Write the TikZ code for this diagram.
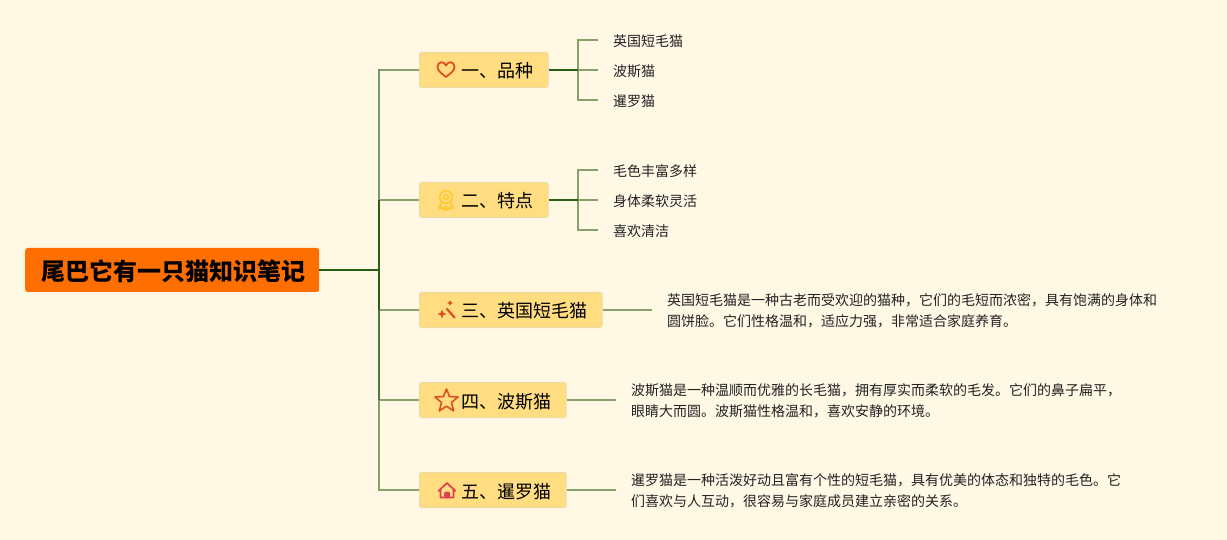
\documentclass[tikz,border=0pt]{standalone}
\usepackage{fontspec}
\setmainfont{Noto Sans CJK SC}
\usetikzlibrary{calc}
\definecolor{bgc}{HTML}{FFF8E5}
\definecolor{rootc}{HTML}{FF6F00}
\definecolor{branchc}{HTML}{FFDD80}
\definecolor{branchb}{HTML}{EADBA2}
\definecolor{dark}{HTML}{2A5F14}
\definecolor{mid}{HTML}{4A7A3A}
\definecolor{midl}{HTML}{76956A}
\definecolor{light}{HTML}{87A06C}
\definecolor{txt}{HTML}{222222}
\definecolor{icred}{HTML}{DC4F24}
\definecolor{icyel}{HTML}{FFC933}
\definecolor{icpink}{HTML}{DB4250}
\tikzset{
  rootbox/.style={fill=rootc,draw=none,rounded corners=2.5pt,anchor=west,inner xsep=0pt,inner ysep=0pt,minimum height=44pt,text height=21.6pt,text depth=0pt,font=\fontsize{24}{28}\selectfont\bfseries,text=black},
  branchbox/.style={fill=branchc,draw=branchb,line width=1pt,rounded corners=1.5pt,anchor=west,inner xsep=0pt,inner ysep=0pt,minimum height=35pt,text height=16pt,text depth=0pt,font=\fontsize{18}{22}\selectfont,text=black},
  leaftext/.style={anchor=west,inner sep=0pt,font=\fontsize{14}{20}\selectfont,text=txt},
  detailtext/.style={anchor=west,inner sep=0pt,align=left,font=\fontsize{14}{21}\selectfont,text=txt},
  darkline/.style={draw=dark,line width=1.6pt},
  lightline/.style={draw=light,line width=1.6pt},
  icon/.style={line join=round,line cap=round},
}
\newcommand{\btext}[1]{\hspace*{42pt}#1\hspace*{14.5pt}}
\begin{document}
\begin{tikzpicture}[x=1pt,y=-1pt]
\path[use as bounding box,fill=bgc] (0,0) rectangle (1227,540);
% junction coordinates
\coordinate (trunktop) at (379,70);
\coordinate (trunkbot) at (379,490);
\coordinate (trunkmid) at (379,270);
\coordinate (forka) at (578,70);
\coordinate (forkb) at (578,200);
% nodes
\node[rootbox] (root) at (25,270) {\hspace*{16pt}尾巴它有一只猫知识笔记\hspace*{14pt}};
\node[branchbox] (b1) at (419,70) {\btext{一、品种}};
\node[branchbox] (b2) at (419,200) {\btext{二、特点}};
\node[branchbox] (b3) at (419,310) {\btext{三、英国短毛猫}};
\node[branchbox] (b4) at (419,400) {\btext{四、波斯猫}};
\node[branchbox] (b5) at (419,490) {\btext{五、暹罗猫}};
\node[leaftext] (l11) at (613,41) {英国短毛猫};
\node[leaftext] (l12) at (613,71) {波斯猫};
\node[leaftext] (l13) at (613,101) {暹罗猫};
\node[leaftext] (l21) at (613,171) {毛色丰富多样};
\node[leaftext] (l22) at (613,201) {身体柔软灵活};
\node[leaftext] (l23) at (613,231) {喜欢清洁};
\node[detailtext] (d3) at (667,310.5) {英国短毛猫是一种古老而受欢迎的猫种，它们的毛短而浓密，具有饱满的身体和\\圆饼脸。它们性格温和，适应力强，非常适合家庭养育。};
\node[detailtext] (d4) at (631,400.5) {波斯猫是一种温顺而优雅的长毛猫，拥有厚实而柔软的毛发。它们的鼻子扁平，\\眼睛大而圆。波斯猫性格温和，喜欢安静的环境。};
\node[detailtext] (d5) at (631,490.5) {暹罗猫是一种活泼好动且富有个性的短毛猫，具有优美的体态和独特的毛色。它\\们喜欢与人互动，很容易与家庭成员建立亲密的关系。};
% branch connectors (light)
\draw[lightline] (trunktop |- b1.west) -- (b1.west);
\draw[lightline] (trunktop |- b2.west) -- (b2.west);
\draw[lightline] (trunktop |- b3.west) -- (b3.west);
\draw[lightline] (trunktop |- b4.west) -- (b4.west);
\draw[lightline] (trunktop |- b5.west) -- (b5.west);
\draw[lightline] (b3.east) -- ($(b3.east -| d3.west)+(-15,0)$);
\draw[lightline] (b4.east) -- ($(b4.east -| d4.west)+(-15,0)$);
\draw[lightline] (b5.east) -- ($(b5.east -| d5.west)+(-15,0)$);
\draw[lightline] ($(l11.west)+(-15,-1)$) -| (forka) |- ($(l13.west)+(-15,-1)$);
\draw[lightline] (forka) -- ($(l12.west)+(-15,-1)$);
\draw[lightline] ($(l21.west)+(-15,-1)$) -| (forkb) |- ($(l23.west)+(-15,-1)$);
\draw[lightline] (forkb) -- ($(l22.west)+(-15,-1)$);
% trunk, darkest near the root
\draw[draw=midl,line width=1.6pt,line cap=rect] (trunktop) -- (trunktop |- b2.west);
\draw[draw=light,line width=1.6pt,line cap=rect] (trunktop |- b4.west) -- (trunkbot);
\draw[draw=mid,line width=1.6pt] (trunktop |- b3.west) -- (trunktop |- b4.west);
\draw[darkline] (trunktop |- b2.west) -- (trunktop |- b3.west);
\draw[darkline] (root.east) -- (trunkmid);
\draw[darkline] (b1.east) -- (forka);
\draw[darkline] (b2.east) -- (forkb);
% icons
\draw[icon,draw=icred,line width=1.8pt] (446,77) .. controls (441,73) and (437.5,70.5) .. (437.5,67) .. controls (437.5,61.5) and (444,60.5) .. (446,65.5) .. controls (448,60.5) and (454.5,61.5) .. (454.5,67) .. controls (454.5,70.5) and (451,73) .. (446,77) -- cycle;
\draw[icon,draw=icyel,line width=1.7pt] (446,197) circle (6.3);
\draw[icon,draw=icyel,line width=1.5pt] (446,197) circle (2.5);
\draw[icon,draw=icyel,line width=2pt] (441.5,203) -- (439,208) -- (442.5,208) -- (444.5,210) -- (446,206) -- (447.5,210) -- (449.5,208) -- (453,208) -- (450.5,203);
\draw[icon,draw=icred,line width=2.2pt] (447,309) -- (454.5,317.5);
\fill[icred] (450,300) -- (450.9,302.1) -- (453,303) -- (450.9,303.9) -- (450,306) -- (449.1,303.9) -- (447,303) -- (449.1,302.1) -- cycle;
\fill[icred] (442,309.5) -- (443.3,312.7) -- (446.5,314) -- (443.3,315.3) -- (442,318.5) -- (440.7,315.3) -- (437.5,314) -- (440.7,312.7) -- cycle;
\draw[icon,draw=icred,line width=1.6pt] (446.5,389) -- (449.5,396.5) -- (458,397) -- (451.5,402.5) -- (453.7,411) -- (446.5,406.2) -- (439.3,411) -- (441.5,402.5) -- (435,397) -- (443.5,396.5) -- cycle;
\draw[icon,draw=icpink,line width=1.7pt] (438.5,491) -- (447,483) -- (455.5,491) (440.5,489.5) -- (440.5,497.5) -- (453.5,497.5) -- (453.5,489.5);
\fill[icpink,rounded corners=1.5pt] (444,498) -- (444,491.5) -- (450,491.5) -- (450,498) -- cycle;
\end{tikzpicture}
\end{document}
